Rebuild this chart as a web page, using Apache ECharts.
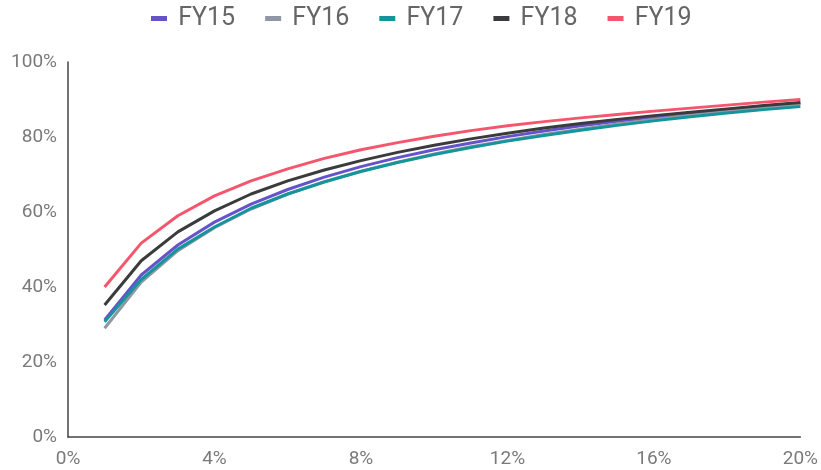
<!DOCTYPE html>
<html>
<head>
<meta charset="utf-8">
<script src="https://cdn.jsdelivr.net/npm/echarts@6/dist/echarts.min.js"></script>
<style>
  html, body { margin: 0; padding: 0; background: #fff; }
  #chart { width: 821px; height: 470px; }
</style>
</head>
<body>
<div id="chart"></div>
<script>
// Share of cumulative total (%) by threshold (%), one curve per fiscal year
const thresholds = [1, 2, 3, 4, 5, 6, 7, 8, 9, 10, 11, 12, 13, 14, 15, 16, 17, 18, 19, 20];
const seriesNames = ['FY15', 'FY16', 'FY17', 'FY18', 'FY19'];
const seriesColors = ['#6753c9', '#8f97a5', '#14959b', '#3b3b3d', '#f4576d'];
const fy15 = [31.2, 43.2, 51.2, 57.3, 62.1, 66.0, 69.3, 72.1, 74.5, 76.6, 78.4, 80.1, 81.6, 83.0, 84.2, 85.3, 86.3, 87.3, 88.2, 89.0];
const fy16 = [29.0, 41.3, 49.7, 55.8, 60.8, 64.8, 68.1, 70.9, 73.3, 75.5, 77.4, 79.1, 80.7, 82.1, 83.5, 84.7, 85.8, 86.8, 87.8, 88.7];
const fy17 = [30.7, 42.0, 50.1, 56.0, 61.0, 64.8, 68.0, 70.8, 73.2, 75.3, 77.2, 78.9, 80.4, 81.8, 83.1, 84.3, 85.4, 86.4, 87.3, 88.1];
const fy18 = [35.2, 47.0, 54.7, 60.3, 64.8, 68.3, 71.2, 73.7, 75.9, 77.8, 79.5, 81.0, 82.4, 83.6, 84.7, 85.7, 86.6, 87.5, 88.4, 89.2];
const fy19 = [40.0, 51.7, 59.0, 64.3, 68.3, 71.5, 74.3, 76.6, 78.5, 80.2, 81.7, 83.0, 84.1, 85.1, 86.0, 86.9, 87.7, 88.5, 89.3, 90.0];
const seriesValues = [fy15, fy16, fy17, fy18, fy19];

const chart = echarts.init(document.getElementById('chart'), null, { renderer: 'canvas' });
const fontFamily = 'Roboto, "Noto Sans", sans-serif';

chart.setOption({
  animation: false,
  textStyle: { fontFamily },
  color: seriesColors,
  legend: {
    top: 1,
    left: 146,
    itemWidth: 16,
    itemHeight: 5,
    itemGap: 30,
    icon: 'rect',
    textStyle: { fontSize: 25, color: '#666', fontFamily },
    formatter: name => ' ' + name,
    data: seriesNames
  },
  grid: { left: 68, right: 19, top: 62, bottom: 33, containLabel: false },
  xAxis: {
    type: 'value',
    min: 0, max: 20, interval: 4,
    axisLine: { show: true, lineStyle: { color: '#444', width: 1.5 } },
    axisTick: { show: false },
    splitLine: { show: false },
    axisLabel: { formatter: '{value}%', fontSize: 19, color: '#7a7a7a', margin: 13, fontFamily }
  },
  yAxis: {
    type: 'value',
    min: 0, max: 100, interval: 20,
    axisLine: { show: true, lineStyle: { color: '#444', width: 1.5 } },
    axisTick: { show: false },
    splitLine: { show: false },
    axisLabel: { formatter: '{value}%', fontSize: 19, color: '#7a7a7a', margin: 11, fontFamily }
  },
  series: seriesNames.map((name, i) => ({
    name,
    type: 'line',
    data: thresholds.map((x, j) => [x, seriesValues[i][j]]),
    showSymbol: false,
    symbol: 'none',
    lineStyle: { width: 3, color: seriesColors[i] },
    itemStyle: { color: seriesColors[i] },
    z: 2 + i
  }))
});
</script>
</body>
</html>
